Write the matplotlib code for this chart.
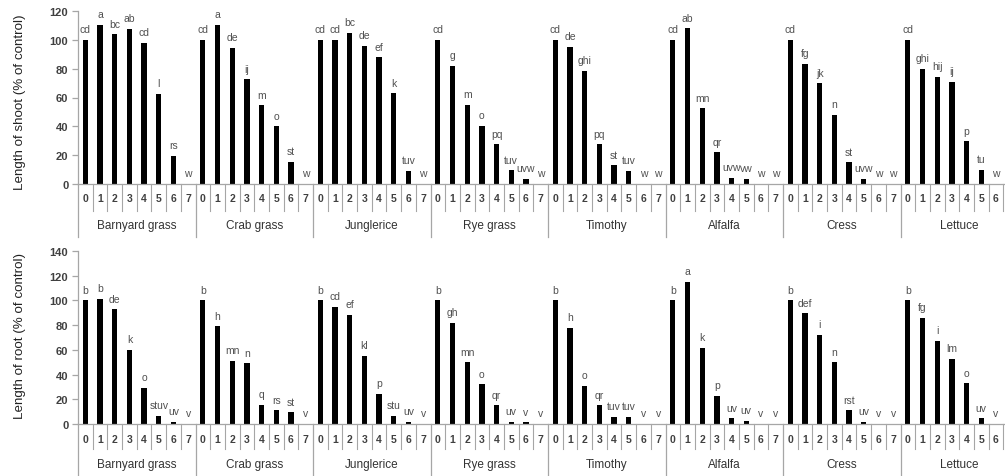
import matplotlib
matplotlib.use("Agg")
import matplotlib.pyplot as plt
from matplotlib import font_manager
import numpy as np

plt.rcParams['font.family'] = ['Liberation Sans', 'DejaVu Sans']

species = ["Barnyard grass", "Crab grass", "Junglerice", "Rye grass",
           "Timothy", "Alfalfa", "Cress", "Lettuce"]
levels = ["0", "1", "2", "3", "4", "5", "6", "7"]

shoot = [
    [100, 110.5, 104, 107.5, 98, 62.5, 19.5, 0],
    [100, 110.5, 94.5, 72.5, 54.5, 40, 15.5, 0],
    [100, 100, 105, 96, 88, 63, 9, 0],
    [100, 82, 55, 40.5, 27.5, 9.5, 3.5, 0],
    [100, 95, 78.5, 27.5, 13, 9, 0, 0],
    [100, 108, 52.5, 22, 4.5, 3.5, 0, 0],
    [100, 83.5, 70, 48, 15, 3.5, 0, 0],
    [100, 80, 74.5, 71, 29.5, 10, 0, 0],
]
shoot_letters = [
    ["cd", "a", "bc", "ab", "cd", "l", "rs", "w"],
    ["cd", "a", "de", "ij", "m", "o", "st", "w"],
    ["cd", "cd", "bc", "de", "ef", "k", "tuv", "w"],
    ["cd", "g", "m", "o", "pq", "tuv", "uvw", "w"],
    ["cd", "de", "ghi", "pq", "st", "tuv", "w", "w"],
    ["cd", "ab", "mn", "qr", "uvw", "vw", "w", "w"],
    ["cd", "fg", "jk", "n", "st", "uvw", "w", "w"],
    ["cd", "ghi", "hij", "ij", "p", "tu", "w", "w"],
]

root = [
    [100, 101.5, 93, 60, 29.5, 6.5, 2, 0],
    [100, 79, 51, 49, 15.5, 11, 9.5, 0],
    [100, 95, 88.5, 55, 24.5, 6.5, 2, 0],
    [100, 82, 50, 32, 15, 2, 1.5, 0],
    [100, 78, 31, 15, 6, 6, 0, 0],
    [100, 115, 61.5, 23, 4.5, 2.5, 0, 0],
    [100, 89.5, 72, 50, 11, 2, 0, 0],
    [100, 86, 67.5, 53, 33, 4.5, 0, 0],
]
root_letters = [
    ["b", "b", "de", "k", "o", "stuv", "uv", "v"],
    ["b", "h", "mn", "n", "q", "rs", "st", "v"],
    ["b", "cd", "ef", "kl", "p", "stu", "uv", "v"],
    ["b", "gh", "mn", "o", "qr", "uv", "v", "v"],
    ["b", "h", "o", "qr", "tuv", "tuv", "v", "v"],
    ["b", "a", "k", "p", "uv", "uv", "v", "v"],
    ["b", "def", "i", "n", "rst", "uv", "v", "v"],
    ["b", "fg", "i", "lm", "o", "uv", "v", "v"],
]

W, H = 1005, 477
fig = plt.figure(figsize=(W / 100, H / 100), dpi=100)

axis_col = "#a6a6a6"
text_col = "#404040"

names = {f.name for f in font_manager.fontManager.ttflist}
ylab_family = ['Liberation Sans Narrow', 'Liberation Sans'] if 'Liberation Sans Narrow' in names else ['Liberation Sans']
ylab_size = 11 if 'Liberation Sans Narrow' in names else 9.6


def panel(rect, data, letters, ymax, sep_small, num_y, grp_y, sep_big):
    ax = fig.add_axes(rect)
    n = len(levels)
    ng = len(species)
    vals = np.array(data).ravel()
    x = np.arange(n * ng) + 0.5
    ax.bar(x, vals, width=0.36, color="black", zorder=3)
    ax.set_xlim(0, n * ng)
    ax.set_ylim(0, ymax)
    ax.set_yticks(np.arange(0, ymax + 1, 20))
    for s in ["top", "right", "bottom"]:
        ax.spines[s].set_visible(False)
    ax.spines["left"].set_color(axis_col)
    ax.spines["left"].set_linewidth(0.9)
    ax.tick_params(axis="y", length=4, width=0.9, color=axis_col, labelsize=8,
                   labelcolor=text_col, pad=3)
    for lab in ax.get_yticklabels():
        lab.set_fontweight("bold")
    ax.set_xticks([])
    trans = ax.get_xaxis_transform()
    ax.plot([0, n * ng], [0, 0], transform=trans, color=axis_col, lw=0.9, clip_on=False, zorder=4)
    ax.plot([0, 0], [0, sep_big], transform=trans, color=axis_col, lw=0.9, clip_on=False)
    for g in range(ng):
        for i in range(n):
            k = g * n + i
            if i > 0:
                ax.plot([k, k], [0, sep_small], transform=trans, color=axis_col, lw=0.8, clip_on=False)
            ax.text(k + 0.5, num_y, levels[i], transform=trans, ha="center", va="center",
                    fontsize=7.5, color=text_col, fontweight="bold", clip_on=False)
            ax.annotate(letters[g][i], (k + 0.5, data[g][i]), xytext=(0, 4),
                        textcoords="offset points", ha="center", va="bottom",
                        fontsize=7.5, color="#505050")
        ax.plot([(g + 1) * n, (g + 1) * n], [0, sep_big], transform=trans, color=axis_col,
                lw=0.9, clip_on=False)
        ax.text(g * n + n / 2, grp_y, species[g], transform=trans, ha="center", va="center",
                fontsize=8.5, color="#333333")
    return ax


left = 78 / W
width = 940 / W
top_rect = [left, 1 - 185 / H, width, 173 / H]
bot_rect = [left, 1 - 425 / H, width, 173 / H]

ax1 = panel(top_rect, shoot, shoot_letters, 120, -27 / 173, -14 / 173, -41 / 173, -53 / 173)
ax2 = panel(bot_rect, root, root_letters, 140, -25 / 173, -15 / 173, -40 / 173, -55 / 173)

fig.text(20 / W, 1 - 102 / H, "Length of shoot (% of control)", rotation=90, ha="center",
         va="center", fontsize=ylab_size, color="#222222", family=ylab_family)
fig.text(20 / W, 1 - 336 / H, "Length of root (% of control)", rotation=90, ha="center",
         va="center", fontsize=ylab_size, color="#222222", family=ylab_family)

fig.savefig("out.png", dpi=100)
